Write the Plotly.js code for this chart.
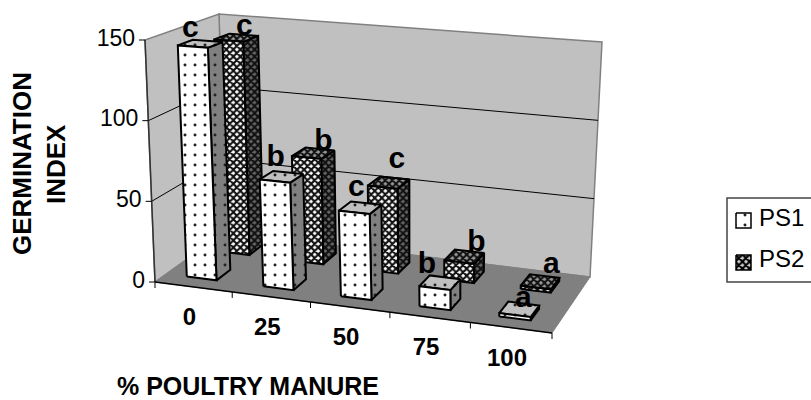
<!DOCTYPE html>
<html><head><meta charset="utf-8">
<script src="https://cdn.plot.ly/plotly-3.0.1.min.js"></script>
<style>html,body{margin:0;padding:0;background:#fff;overflow:hidden}#c{width:811px;height:400px}</style>
</head><body><div id="c"></div>
<script>
const categories = ['0','25','50','75','100'];
const ps1Values = [145, 66, 52, 12, 2];
const ps2Values = [140, 68, 54, 12, 2];
const ps1Letters = ['c','b','c','b','a'];
const ps2Letters = ['c','b','c','b','a'];
const yTicks = [0,50,100,150];
const yMax = 150;
// screen offsets of the letters from the bar tops
const ps1LabelDx = [-8,-4,-2,-11,6], ps1LabelDy = [-14,-18,-19,-17,-9];
const ps2LabelDx = [10,12,10,14,13], ps2LabelDy = [-10,-11,-22,-13,-16];

function homography(q){
  const [[x0,y0],[x1,y1],[x2,y2],[x3,y3]]=q;
  const dx1=x1-x2,dx2=x3-x2,sx=x0-x1+x2-x3,dy1=y1-y2,dy2=y3-y2,sy=y0-y1+y2-y3;
  const den=dx1*dy2-dx2*dy1, g=(sx*dy2-dx2*sy)/den, h=(dx1*sy-sx*dy1)/den;
  const a=x1-x0+g*x1,b=x3-x0+h*x3,d=y1-y0+g*y1,e=y3-y0+h*y3;
  return (u,v)=>{const w=g*u+h*v+1;return [(a*u+b*v+x0)/w,(d*u+e*v+y0)/w];};
}
const floorH = homography([[155,282],[552,333],[590,277],[225,232]]);
const ceilH  = homography([[145,40],[555,72],[602,42],[219,14]]);
function project(u,v,val){
  const f=floorH(u,v),c=ceilH(u,v),t=val/yMax;
  return [f[0]+(c[0]-f[0])*t,f[1]+(c[1]-f[1])*t];
}
const traces=[];
function poly(pts,fillcolor,linecolor,lw,pattern){
  const t={type:'scatter',mode:'lines',x:pts.map(p=>p[0]).concat(pts[0][0]),y:pts.map(p=>p[1]).concat(pts[0][1]),
    fill:'toself',fillcolor:fillcolor,line:{color:linecolor,width:lw},hoverinfo:'skip',showlegend:false};
  if(pattern)t.fillpattern=pattern;
  traces.push(t);
}
function seg(a,b,color,w){
  traces.push({type:'scatter',mode:'lines',x:[a[0],b[0]],y:[a[1],b[1]],line:{color:color,width:w},hoverinfo:'skip',showlegend:false});
}
poly([project(0,1,0),project(1,1,0),project(1,1,yMax),project(0,1,yMax)],'#c0c0c0','#808080',1.5);
poly([project(0,0,0),project(0,1,0),project(0,1,yMax),project(0,0,yMax)],'#c0c0c0','#808080',1.5);
poly([project(0,0,0),project(1,0,0),project(1,1,0),project(0,1,0)],'#808080','#808080',1);
yTicks.filter(t=>t>0&&t<yMax).forEach(t=>{
  seg(project(0,0,t),project(0,1,t),'#000',1);
  seg(project(0,1,t),project(1,1,t),'#000',1);
});
seg(project(0,0,0),project(0,0,yMax),'#333',1.5);
seg(project(0,0,0),project(1,0,0),'#000',1.5);
yTicks.forEach(t=>{const p=project(0,0,t);seg([p[0]-6,p[1]],p,'#000',1);});
categories.forEach((c,i)=>{const p=project((i+1)/5,0,0);seg(p,[p[0],p[1]+6],'#000',1);if(i==0){const q=project(0,0,0);seg(q,[q[0],q[1]+6],'#000',1);}});
const dots=(bg)=>({shape:'.',bgcolor:bg,fgcolor:'#222',size:10,solidity:0.07});
const net=(bg,fg)=>({shape:'x',bgcolor:bg,fgcolor:fg,size:5,solidity:0.65});
function bar(i,v0,v1,val,style){
  const u0=(i+0.27)/5,u1=(i+0.66)/5;
  poly([project(u1,v0,0),project(u1,v1,0),project(u1,v1,val),project(u1,v0,val)],style.side[0],'#000',2,style.side[1]);
  poly([project(u0,v0,val),project(u1,v0,val),project(u1,v1,val),project(u0,v1,val)],style.top[0],'#000',2,style.top[1]);
  poly([project(u0,v0,0),project(u1,v0,0),project(u1,v0,val),project(u0,v0,val)],style.front[0],'#000',2,style.front[1]);
}
const style1={front:['#fff',dots('#fff')],side:['#808080',dots('#808080')],top:['#c0c0c0',dots('#c0c0c0')]};
const style2={front:['#fff',net('#fff','#111')],side:['#444',net('#666','#111')],top:['#888',net('#999','#111')]};
const rows=[[0.64,0.86],[0.15,0.35]];
ps2Values.forEach((val,i)=>bar(i,rows[0][0],rows[0][1],val,style2));
ps1Values.forEach((val,i)=>bar(i,rows[1][0],rows[1][1],val,style1));
function letters(vals,txt,row,dx,dy){
  const pts=vals.map((val,i)=>project((i+0.44)/5,(row[0]+row[1])/2,val));
  traces.push({type:'scatter',mode:'text',x:pts.map((p,i)=>p[0]+dx[i]),y:pts.map((p,i)=>p[1]+dy[i]),text:txt.map(s=>'<b>'+s+'</b>'),
    textposition:'middle center',textfont:{family:'Liberation Sans',size:30,color:'#000'},hoverinfo:'skip',showlegend:false,cliponaxis:false});
}
letters(ps2Values,ps2Letters,rows[0],ps2LabelDx,ps2LabelDy);
letters(ps1Values,ps1Letters,rows[1],ps1LabelDx,ps1LabelDy);
const yPts=yTicks.map(t=>project(0,0,t));
traces.push({type:'scatter',mode:'text',x:yPts.map(p=>p[0]-10),y:yPts.map(p=>p[1]),text:yTicks.map(String),
  textposition:'middle left',textfont:{family:'Liberation Sans',size:23,color:'#000'},hoverinfo:'skip',showlegend:false,cliponaxis:false});
const cPts=categories.map((c,i)=>project((i+0.5)/5,0,0));
traces.push({type:'scatter',mode:'text',x:cPts.map(p=>p[0]-4),y:cPts.map(p=>p[1]+32),text:categories.map(s=>'<b>'+s+'</b>'),
  textposition:'middle center',textfont:{family:'Liberation Sans',size:24,color:'#000'},hoverinfo:'skip',showlegend:false,cliponaxis:false});
const legendNames=['PS1','PS2'];
const legendStyle=[dots('#fff'),net('#ccc','#000')];
legendNames.forEach((n,k)=>{
  const y0=213+k*42,y1=y0+15;
  poly([[736,y0],[751,y0],[751,y1],[736,y1]],'#fff','#000',1.5,legendStyle[k]);
});
traces.push({type:'scatter',mode:'text',x:[759,759],y:[220,261],text:legendNames,textposition:'middle right',
  textfont:{family:'Liberation Sans',size:24,color:'#000'},hoverinfo:'skip',showlegend:false,cliponaxis:false});

const layout={width:811,height:400,margin:{l:0,r:0,t:0,b:0},paper_bgcolor:'#fff',plot_bgcolor:'#fff',showlegend:false,
  xaxis:{range:[0,811],visible:false,fixedrange:true},yaxis:{range:[400,0],visible:false,fixedrange:true},
  shapes:[{type:'rect',xref:'x',yref:'y',x0:727,x1:830,y0:198,y1:282,line:{color:'#444',width:1.5},fillcolor:'rgba(0,0,0,0)',layer:'below'}],
  annotations:[
   {xref:'x',yref:'y',x:22,y:164,text:'<b>GERMINATION</b>',textangle:-90,showarrow:false,font:{family:'Liberation Sans',size:26,color:'#000'}},
   {xref:'x',yref:'y',x:56,y:164,text:'<b>INDEX</b>',textangle:-90,showarrow:false,font:{family:'Liberation Sans',size:26,color:'#000'}},
   {xref:'x',yref:'y',x:248,y:386,text:'<b>% POULTRY MANURE</b>',showarrow:false,font:{family:'Liberation Sans',size:25,color:'#000'}}
  ]};
Plotly.newPlot('c',traces,layout,{displayModeBar:false,staticPlot:true});
</script></body></html>
